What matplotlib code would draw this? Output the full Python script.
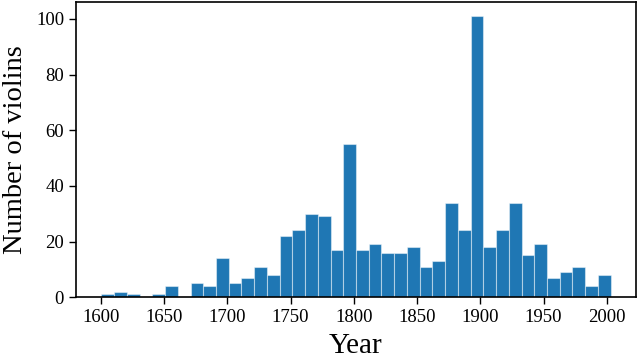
import numpy as np
import matplotlib
matplotlib.use("Agg")
import matplotlib.pyplot as plt

plt.rcParams['font.family'] = ['Liberation Serif', 'DejaVu Serif']

# Histogram of violins by year (40 bins, ~10 years each)
bin_start = 1600.5
bin_end = 2003.0
counts = [1, 2, 1, 0, 1, 4, 0, 5, 4, 14,
          5, 7, 11, 8, 22, 24, 30, 29, 17, 55,
          17, 19, 16, 16, 18, 11, 13, 34, 24, 101,
          18, 24, 34, 15, 19, 7, 9, 11, 4, 8]
xticks = [1600, 1650, 1700, 1750, 1800, 1850, 1900, 1950, 2000]
yticks = [0, 20, 40, 60, 80, 100]

edges = np.linspace(bin_start, bin_end, len(counts) + 1)

fig = plt.figure(figsize=(6.38, 3.58), dpi=100)
ax = fig.add_axes([0.119, 0.170, 0.878, 0.824])
ax.hist(edges[:-1], bins=edges, weights=counts, color='#1f77b4',
        edgecolor=(1, 1, 1, 0.45), linewidth=0.8)
ax.set_xticks(xticks)
ax.set_yticks(yticks)
ax.tick_params(axis='both', labelsize=13.5, direction='out', length=5, width=1)
ax.set_xlabel('Year', fontsize=21, labelpad=5)
ax.set_ylabel('Number of violins', fontsize=20.5, labelpad=6)
for s in ax.spines.values():
    s.set_linewidth(1.2)
fig.savefig('out.png', dpi=100)
